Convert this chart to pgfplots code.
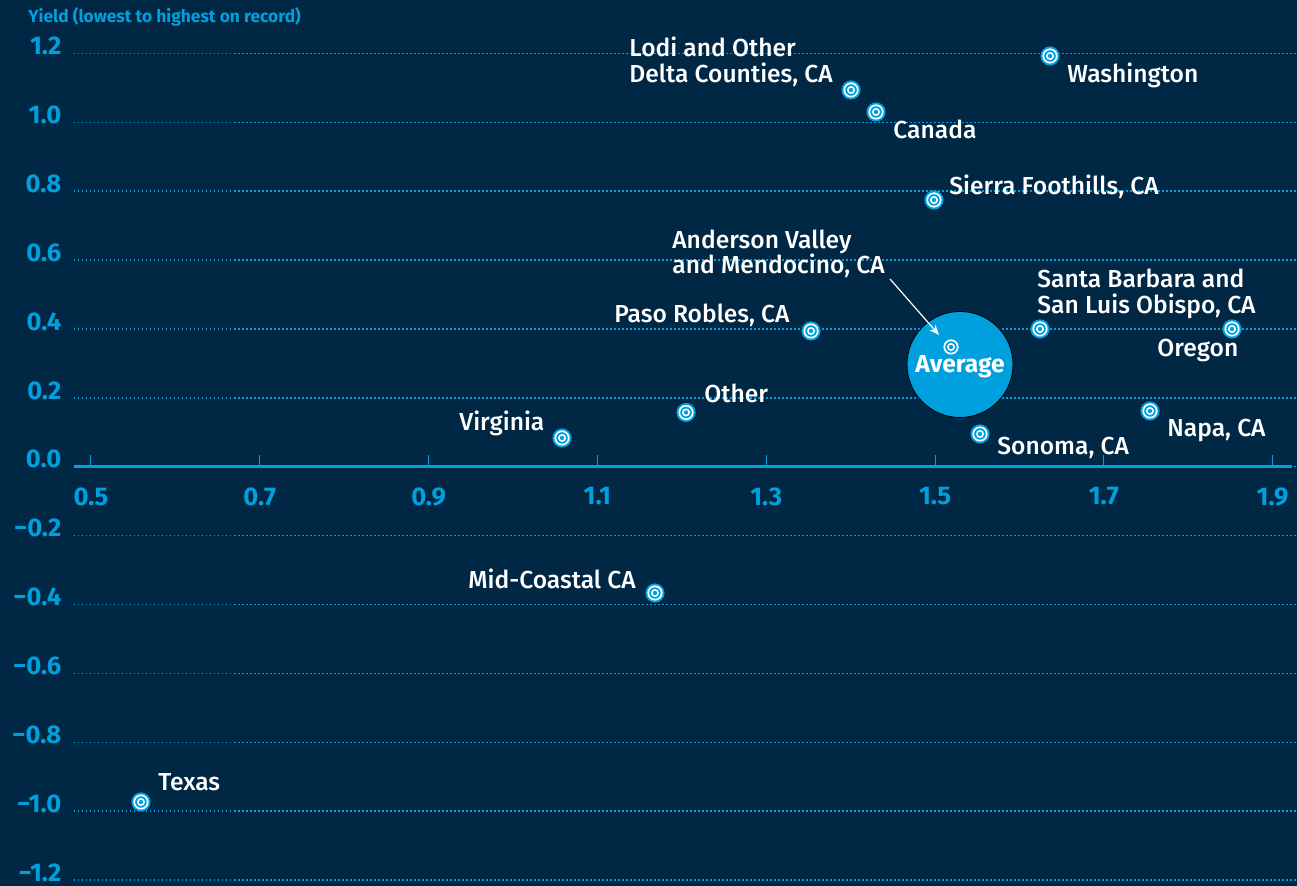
\documentclass[border=0pt]{standalone}
\usepackage{fontspec}
\setmainfont{Fira Sans}[UprightFont=* Medium, BoldFont=* Bold]
\usepackage{pgfplots}
\pgfplotsset{compat=1.18}
\usetikzlibrary{arrows.meta}
\definecolor{bg}{RGB}{0,39,67}
\definecolor{cblue}{RGB}{0,160,222}
\pgfdeclareplotmark{target}{%
  \pgfsetfillcolor{cblue}\pgfpathcircle{\pgfpointorigin}{4.8pt}\pgfusepathqfill
  \pgfsetfillcolor{white}\pgfpathcircle{\pgfpointorigin}{3.8pt}\pgfusepathqfill
  \pgfsetfillcolor{cblue}\pgfpathcircle{\pgfpointorigin}{2.9pt}\pgfusepathqfill
  \pgfsetfillcolor{white}\pgfpathcircle{\pgfpointorigin}{2.0pt}\pgfusepathqfill
  \pgfsetfillcolor{cblue}\pgfpathcircle{\pgfpointorigin}{1.1pt}\pgfusepathqfill
}
\newcommand{\lab}{\fontsize{12.3}{13}\selectfont}
\newcommand{\tlab}{\fontsize{12.8}{13}\selectfont}
\begin{document}
\begin{tikzpicture}
\fill[bg] (0,0) rectangle (648.5pt,443pt);
\begin{axis}[
  scale only axis, width=611.5pt, height=443pt,
  at={(37pt,0pt)}, anchor=south west,
  xmin=0.47986, xmax=1.92891, ymin=-1.21733, ymax=1.35525,
  axis x line=middle, axis y line=left,
  axis line style={draw=none},
  xtick={0.5,0.7,0.9,1.1,1.3,1.5,1.7,1.9},
  xticklabels={0.5,0.7,0.9,1.1,1.3,1.5,1.7,1.9},
  ytick={-1.2,-1,-0.8,-0.6,-0.4,-0.2,0,0.2,0.4,0.6,0.8,1,1.2},
  yticklabels={−1.2,−1.0,−0.8,−0.6,−0.4,−0.2,0.0,0.2,0.4,0.6,0.8,1.0,1.2},
  xtick style={draw=none}, ytick style={draw=none},
  xticklabel style={font=\bfseries\tlab, text=cblue, anchor=north, inner sep=0pt, yshift=-8.1pt},
  yticklabel style={font=\bfseries\tlab, text=cblue, anchor=base east, inner sep=0pt, xshift=-4pt, yshift=-0.6pt},
  ymajorgrids, xmajorgrids=false,
  major grid style={cblue, line width=0.75pt, dash pattern=on 0.75pt off 1.25pt},
  clip=false,
]
% Average bubble
\addplot[only marks, mark=*, mark size=26.5pt, mark options={fill=cblue, draw=none}] coordinates {(1.52962,0.29689)};
\draw[cblue, line width=1.3pt] (axis cs:0.47986,0) -- (axis cs:1.9230,0);
\pgfplotsinvokeforeach{0.5,0.7,0.9,1.1,1.3,1.5,1.7,1.9}{
  \draw[cblue, line width=0.5pt] (axis cs:#1,0) -- ++(0pt,6pt);
}
\addplot[only marks, mark=target] coordinates {
  (1.6363,1.1927)  % Washington
  (1.4005,1.0939)  % Lodi
  (1.4301,1.0301)  % Canada
  (1.4988,0.7745)  % Sierra Foothills
  (1.6244,0.4000)  % Santa Barbara
  (1.8519,0.4000)  % Oregon
  (1.3531,0.3942)  % Paso Robles
  (1.5190,0.3477)  % Average
  (1.7547,0.1619)  % Napa
  (1.2050,0.1575)  % Other
  (1.5533,0.0951)  % Sonoma
  (1.0581,0.0835)  % Virginia
  (1.1682,-0.3666) % Mid-Coastal
  (0.5592,-0.9734) % Texas
};
\end{axis}
\begin{scope}[x=0.5pt,y=-0.5pt,shift={(0,443pt)}, every node/.style={inner sep=0pt, text=white, font=\lab}]
\node[anchor=base west, text=cblue, font=\bfseries\fontsize{8.7}{10}\selectfont] at (28,23) {Yield (lowest to highest on record)};
\node[anchor=base west] at (1067,83) {Washington};
\node[anchor=base west] at (629,57) {Lodi and Other};
\node[anchor=base west] at (629,83) {Delta Counties, CA};
\node[anchor=base west] at (893,139) {Canada};
\node[anchor=base west] at (949,195) {Sierra Foothills, CA};
\node[anchor=base west] at (672,249) {Anderson Valley};
\node[anchor=base west] at (672,274) {and Mendocino, CA};
\node[anchor=base west] at (614,323) {Paso Robles, CA};
\node[anchor=base west] at (704,403) {Other};
\node[anchor=base west] at (459,431) {Virginia};
\node[anchor=base west] at (1037,288) {Santa Barbara and};
\node[anchor=base west] at (1037,314) {San Luis Obispo, CA};
\node[anchor=base west] at (1157,357) {Oregon};
\node[anchor=base west] at (1167,437) {Napa, CA};
\node[anchor=base west] at (997,455) {Sonoma, CA};
\node[anchor=base west] at (468,589) {Mid-Coastal CA};
\node[anchor=base west] at (158,791) {Texas};
\node[anchor=base, font=\bfseries\lab] at (960,373) {Average};
\draw[white, line width=0.6pt, -{Stealth[length=5pt,width=4pt]}] (890,279) -- (939,335);
\end{scope}
\pgfresetboundingbox
\path (0,0) rectangle (648.5pt,443pt);
\end{tikzpicture}
\end{document}
